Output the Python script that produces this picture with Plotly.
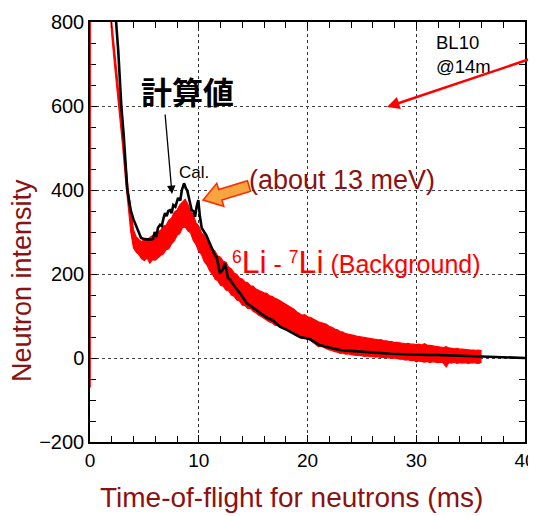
import numpy as np
import plotly.graph_objects as go

# ---------------- data ----------------
# measured (6Li - 7Li) : band between lower / upper envelope of the noisy signal
t_red_head = [0.0, 0.02, 1.0]
hi_head = [-70, 1500, 1200]
lo_head = [-70, 1500, 1150]
t_red_grid = list(np.round(np.arange(1.75, 36.001, 0.25), 2))
red_hi_grid = [880, 800, 735, 672, 612, 545, 475, 405, 352, 305,
               288, 281, 276, 284, 279, 287, 291, 294,
               300, 304, 314, 316, 328, 333, 347, 352,
               364, 370, 378, 366, 350, 340, 322, 314,
               298, 292, 279, 272, 260, 254, 243, 240,
               230, 228, 216, 212, 202, 199, 190, 188,
               181, 179, 172, 171, 164, 161, 158, 155,
               154, 148, 147, 142, 140, 136, 133, 128,
               126, 120, 116, 110, 106, 102, 103, 98,
               97, 94, 90, 86, 84, 81, 80, 75,
               73, 69, 67, 63, 62, 58, 57, 55,
               54, 52, 51, 49, 48, 47, 47, 45,
               45, 43, 44, 41, 41, 39, 39, 37,
               37, 36, 36, 34, 35, 33, 33, 32,
               33, 31, 34, 31, 30, 29, 28, 27,
               26, 25, 27, 24, 23, 22, 23, 21,
               21, 20, 20, 19, 19, 18, 19, 17]
red_lo_grid = [850, 770, 700, 640, 580, 505, 430, 360, 300, 262,
               252, 246, 236, 232, 238, 226, 234, 233,
               239, 244, 248, 258, 260, 272, 279, 292,
               296, 310, 312, 303, 298, 280, 270, 253,
               247, 230, 222, 208, 200, 188, 184, 173,
               171, 162, 160, 150, 147, 138, 136, 126,
               125, 118, 118, 111, 108, 102, 99, 94,
               91, 86, 84, 78, 77, 73, 72, 68,
               67, 63, 60, 55, 50, 46, 48, 44,
               43, 38, 34, 27, 28, 24, 22, 19,
               18, 15, 14, 11, 12, 9, 10, 8,
               7, 6, 7, 5, 4, 5, 3, 4,
               2, 3, 1, 2, 0, 1, -1, 0,
               -2, -3, -3, -5, -4, -6, -5, -9,
               -7, -9, -10, -8, -11, -9, -10, -11,
               -10, -12, -21, -11, -12, -10, -13, -11,
               -12, -11, -13, -12, -11, -12, -13, -10]
t_red = t_red_head + t_red_grid
red_hi = hi_head + red_hi_grid
red_lo = lo_head + red_lo_grid

# calculated curve
t_cal = [1.5, 2.0, 2.2, 2.4, 2.6, 2.88, 3.1, 3.43, 3.74, 4.0, 4.26, 4.5, 4.7,
         5.0, 5.3, 5.6, 5.8, 5.95, 6.1, 6.25, 6.44, 6.6, 6.75, 6.9, 7.05, 7.2,
         7.36, 7.5, 7.66, 7.85, 8.1, 8.3, 8.45, 8.65, 8.8, 8.95, 9.15, 9.35,
         9.5, 9.66, 9.8, 9.96, 10.1, 10.27, 10.5, 10.7, 10.9, 11.1, 11.3, 11.5,
         11.65, 11.8, 11.95, 12.2, 12.4, 12.7, 12.9, 13.3, 13.8, 14.4, 15.0,
         15.6, 16.2, 16.8, 17.5, 18.1, 18.7, 19.3, 20.2, 21.1, 22.0, 23.0, 24.0,
         24.8, 25.7, 26.7, 27.6, 28.5, 29.4, 30.2, 31.0, 32.0, 33.0, 34.0, 35.0,
         36.0, 37.0, 38.0, 39.0, 40.0]
v_cal = [1100, 950, 870, 800, 730, 600, 530, 400, 352, 330, 313, 295, 286,
         283, 283, 282, 284, 300, 288, 310, 317, 314, 332, 345, 338, 350,
         352, 345, 364, 360, 381, 375, 400, 416, 405, 398, 375, 352,
         350, 336, 360, 376, 338, 310, 300, 292, 280, 268, 253, 244,
         240, 218, 202, 210, 226, 190, 186, 170, 154, 131, 119,
         107, 97, 90, 74, 67, 58, 50, 45, 31, 25, 19, 17,
         15, 13, 12, 10, 9, 8, 8, 7, 7, 6, 5, 4,
         3, 2, 1, 1, 0]

x_ticks = [0, 10, 20, 30, 40]
y_ticks = [-200, 0, 200, 400, 600, 800]

# ---------------- geometry helpers (decoration only) ----------------
OFF = 8                      # page body margin
W, H = 528, 508
ML, MT = 90 - OFF, 22 - OFF
PW, PH = 435, 420
MR = W - ML - PW
MB = H - MT - PH
X0, X1 = 0, 40
Y0, Y1 = -200, 800


def to_data(px, py):
    """page pixel of the reference -> data coordinates"""
    fx, fy = px - OFF, py - OFF
    return (X0 + (fx - ML) / PW * (X1 - X0), Y0 + (MT + PH - fy) / PH * (Y1 - Y0))


def to_px(x, y):
    return (ML + OFF + (x - X0) / (X1 - X0) * PW, MT + OFF + PH - (y - Y0) / (Y1 - Y0) * PH)


def to_paper(px, py):
    fx, fy = px - OFF, py - OFF
    return ((fx - ML) / PW, (MT + PH - fy) / PH)


DARKRED = "#8b1212"
FONT = "Arial, Liberation Sans, sans-serif"

fig = go.Figure()
fig.add_trace(go.Scatter(x=t_red, y=red_lo, mode="lines",
                         line=dict(color="#ff0000", width=1.2), showlegend=False,
                         hoverinfo="skip"))
fig.add_trace(go.Scatter(x=t_red, y=red_hi, mode="lines", fill="tonexty",
                         fillcolor="#ff0000",
                         line=dict(color="#ff0000", width=1.2), showlegend=False,
                         hoverinfo="skip"))
fig.add_trace(go.Scatter(x=t_cal, y=v_cal, mode="lines",
                         line=dict(color="#000000", width=2.6), showlegend=False))

# orange block arrow pointing at the second peak
tip = to_px(10.4, 376)
tail = (249, 186)
d = np.array(tail) - np.array(tip)
L = np.hypot(*d)
u = d / L
n = np.array([-u[1], u[0]])
T = np.array(tip)
B = T + 18 * u
E = T + L * u
pts = [T, B - 12 * n, B - 5.5 * n, E - 5.5 * n, E + 5.5 * n, B + 5.5 * n, B + 12 * n]
path = "M " + " L ".join(f"{to_data(p[0], p[1])[0]:.4f},{to_data(p[0], p[1])[1]:.3f}" for p in pts) + " Z"
fig.add_shape(type="path", path=path, xref="x", yref="y",
              fillcolor="#f7a540", line=dict(color="#ff2a00", width=1.5), layer="above")

ann = []
x, y = to_data(187, 90)
ann.append(dict(x=x, y=y, text="<b>計算値</b>", showarrow=False,
                font=dict(family="Noto Sans CJK JP", size=31, color="black")))
x, y = to_data(172, 194)
ann.append(dict(x=x, y=y, ax=-7, ay=-81, text="", showarrow=True, arrowhead=2,
                arrowsize=1.3, arrowwidth=1.3, arrowcolor="black"))
x, y = to_data(194, 172)
ann.append(dict(x=x, y=y, text="Cal.", showarrow=False,
                font=dict(family=FONT, size=17, color="black")))
x, y = to_data(247, 180)
ann.append(dict(x=x, y=y, text="(about 13 meV)", showarrow=False, xanchor="left",
                font=dict(family=FONT, size=27, color=DARKRED)))
x, y = to_data(230, 262)
ann.append(dict(x=x, y=y, xanchor="left",
                text='<sup>6</sup><span style="font-size:32px">Li</span> - <sup>7</sup><span style="font-size:32px">Li</span> (Background)',
                showarrow=False, font=dict(family=FONT, size=25, color="#ff0000")))
x, y = to_data(434, 54)
ann.append(dict(x=x, y=y, text="BL10<br>@14m", showarrow=False, xanchor="left",
                align="left", font=dict(family=FONT, size=18.5, color="black")))
x, y = to_data(387, 107)
ann.append(dict(x=x, y=y, ax=149, ay=-50, text="", showarrow=True, arrowhead=2,
                arrowsize=1, arrowwidth=2.5, arrowcolor="#ff0000"))
# axis titles
x, y = to_paper(291, 497)
ann.append(dict(xref="paper", yref="paper", x=x, y=y, xanchor="center", yanchor="middle",
                text="Time-of-flight for neutrons (ms)", showarrow=False,
                font=dict(family=FONT, size=28, color=DARKRED)))
x, y = to_paper(22, 281)
ann.append(dict(xref="paper", yref="paper", x=x, y=y, xanchor="center", yanchor="middle",
                text="Neutron intensity", showarrow=False, textangle=-90,
                font=dict(family=FONT, size=27, color=DARKRED)))

fig.update_layout(
    width=W, height=H, margin=dict(l=ML, r=MR, t=MT, b=MB, autoexpand=False),
    paper_bgcolor="white", plot_bgcolor="white", annotations=ann,
    font=dict(family=FONT, size=18, color="black"),
)
fig.update_xaxes(range=[X0, X1], tickvals=x_ticks, showgrid=True, gridcolor="#333",
                 griddash="dot", gridwidth=1, ticks="inside", ticklen=7, tickcolor="black",
                 showline=True, linecolor="black", linewidth=1.5, mirror="ticks",
                 zeroline=False, tickfont=dict(size=19),
                 minor=dict(dtick=2, ticks="inside", ticklen=6, tickcolor="black", showgrid=False))
fig.update_yaxes(range=[Y0, Y1], tickvals=y_ticks, showgrid=True, gridcolor="#444",
                 griddash="3px,3px", gridwidth=1, ticks="inside", ticklen=7, tickcolor="black",
                 showline=True, linecolor="black", linewidth=1.5, mirror="ticks",
                 zeroline=False, tickfont=dict(size=20), layer="below traces",
                 minor=dict(dtick=50, ticks="inside", ticklen=6, tickcolor="black", showgrid=False))

fig.write_html("out.html")
